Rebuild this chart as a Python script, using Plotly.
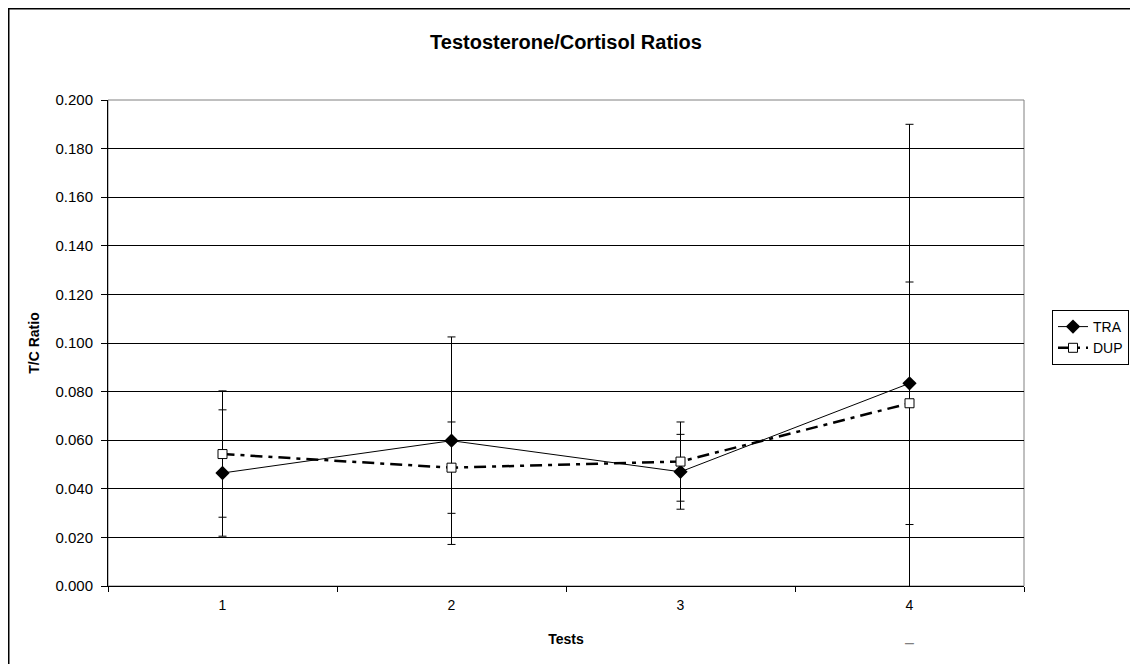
import plotly.graph_objects as go

tests = ["1", "2", "3", "4"]
tra = [0.0465, 0.0598, 0.047, 0.0834]
tra_err = [0.026, 0.0427, 0.0154, 0.1066]
dup = [0.0543, 0.0487, 0.0512, 0.0752]
dup_err = [0.026, 0.0188, 0.0163, 0.0499]

FONT = "Arial, Liberation Sans, sans-serif"
Y_MIN, Y_MAX = 0.0, 0.2

W, H = 1130, 656
L, R, T, B = 100, 114, 92, 78
PW, PH = W - L - R, H - T - B

fig = go.Figure()

fig.add_trace(go.Scatter(
    x=tests, y=tra, name="TRA", mode="lines+markers",
    line=dict(color="black", width=1),
    marker=dict(symbol="diamond", size=11, color="black"),
    error_y=dict(type="data", array=tra_err, visible=True, color="black", thickness=1, width=4),
))
fig.add_trace(go.Scatter(
    x=tests, y=dup, name="DUP", mode="lines+markers",
    line=dict(color="black", width=2.5, dash="12px,6px,4px,6px"),
    marker=dict(symbol="square", size=9, color="white", line=dict(color="black", width=1)),
    error_y=dict(type="data", array=dup_err, visible=True, color="black", thickness=1, width=4),
))

# lower error caps that fall below the axis are still drawn in the original
annotations = []
for i, (v, e) in enumerate(zip(tra, tra_err)):
    low = v - e
    if low < Y_MIN:
        annotations.append(dict(
            x=i, xref="x", y=(low - Y_MIN) / (Y_MAX - Y_MIN), yref="paper",
            text="–", showarrow=False, xanchor="center", yanchor="middle",
            font=dict(size=16, color="#808080", family=FONT),
        ))

fig.update_layout(
    width=W, height=H,
    margin=dict(l=L, r=R, t=T, b=B, autoexpand=False),
    paper_bgcolor="white", plot_bgcolor="white",
    font=dict(family=FONT, size=14, color="black"),
    title=dict(text="<b>Testosterone/Cortisol Ratios</b>", x=0.5, xref="paper",
               y=1 - 34 / H, yanchor="middle", font=dict(size=20, family=FONT)),
    showlegend=True,
    legend=dict(x=(1044 - L) / PW, y=(T + PH - 302) / PH, xanchor="left", yanchor="top",
                bordercolor="black", borderwidth=1, bgcolor="white",
                font=dict(size=14, family=FONT), tracegroupgap=2),
    xaxis=dict(
        type="category", range=[-0.5, 3.5], tickson="boundaries",
        ticks="outside", ticklen=5, tickcolor="black",
        showline=True, linecolor="black", linewidth=1, showgrid=False,
        ticklabelstandoff=6,
        title=dict(text="<b>Tests</b>", font=dict(size=14, family=FONT), standoff=22),
        tickfont=dict(size=14, family=FONT),
    ),
    yaxis=dict(
        range=[Y_MIN, Y_MAX], dtick=0.02, tick0=0, tickformat=".3f",
        ticks="outside", ticklen=6, tickcolor="black",
        showline=True, linecolor="black", linewidth=1,
        showgrid=True, gridcolor="black", gridwidth=1, zeroline=False,
        ticklabelstandoff=5,
        title=dict(text="<b>T/C Ratio</b>", font=dict(size=14, family=FONT), standoff=12),
        tickfont=dict(size=15, family=FONT),
    ),
    annotations=annotations,
    shapes=[
        dict(type="rect", xref="paper", yref="paper", x0=0, x1=1, y0=0, y1=1,
             line=dict(color="#808080", width=1), layer="below"),
        dict(type="rect", xref="paper", yref="paper",
             x0=(0.75 - L) / PW, x1=(W + 20 - L) / PW,
             y0=(T + PH - (H + 30)) / PH, y1=(T + PH - 0.75) / PH,
             line=dict(color="black", width=1.5), layer="below"),
    ],
)

fig.write_html("out.html")
